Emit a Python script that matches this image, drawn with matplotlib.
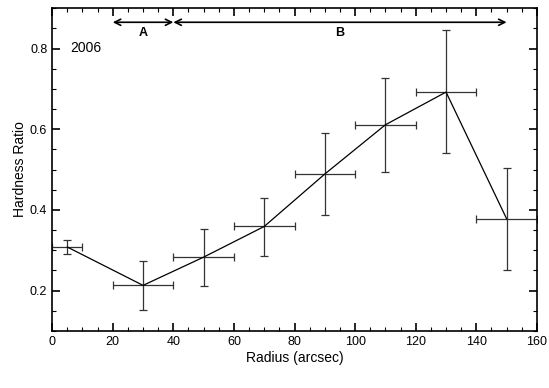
import numpy as np
import matplotlib.pyplot as plt
from matplotlib.ticker import MultipleLocator

plt.rcParams['font.family'] = ['Liberation Sans', 'DejaVu Sans']

# Data
radius = [5, 30, 50, 70, 90, 110, 130, 150]
radius_err = [5, 10, 10, 10, 10, 10, 10, 10]
hr = [0.308, 0.213, 0.283, 0.359, 0.489, 0.611, 0.692, 0.378]
hr_lo = [0.290, 0.153, 0.212, 0.287, 0.388, 0.495, 0.540, 0.252]
hr_hi = [0.325, 0.274, 0.353, 0.429, 0.590, 0.728, 0.845, 0.505]

regions = ['A', 'B']
region_start = [20, 40]
region_end = [40, 150]

hr = np.array(hr)
yerr = [hr - np.array(hr_lo), np.array(hr_hi) - hr]

fig = plt.figure(figsize=(5.49, 3.88), dpi=100)
ax = fig.add_axes([0.095, 0.147, 0.883, 0.832])

ax.errorbar(radius, hr, xerr=radius_err, yerr=yerr, color='black',
            ecolor='#333333', elinewidth=0.9, capsize=3.2, capthick=0.9,
            linewidth=0.9)

# region arrows along the top
for name, x0, x1 in zip(regions, region_start, region_end):
    ax.annotate('', xy=(x1, 0.865), xytext=(x0, 0.865),
                arrowprops=dict(arrowstyle='<->', color='black', lw=1.2,
                                shrinkA=0, shrinkB=0, mutation_scale=11))
    ax.text((x0 + x1) / 2, 0.838, name, ha='center', va='center',
            fontsize=9, fontweight='bold')

ax.text(6, 0.8, '2006', ha='left', va='center', fontsize=10)

ax.set_xlim(0, 160)
ax.set_ylim(0.1, 0.9)
ax.xaxis.set_major_locator(MultipleLocator(20))
ax.xaxis.set_minor_locator(MultipleLocator(5))
ax.yaxis.set_major_locator(MultipleLocator(0.2))
ax.yaxis.set_minor_locator(MultipleLocator(0.05))
ax.tick_params(which='both', direction='in', top=True, right=True, labelsize=9)
ax.tick_params(which='major', length=6, width=1.2)
ax.tick_params(which='minor', length=3, width=0.8)
for s in ax.spines.values():
    s.set_linewidth(1.2)

ax.set_xlabel('Radius (arcsec)', fontsize=10, labelpad=2)
ax.set_ylabel('Hardness Ratio', fontsize=10, labelpad=2)

fig.savefig('out.png', dpi=100)
